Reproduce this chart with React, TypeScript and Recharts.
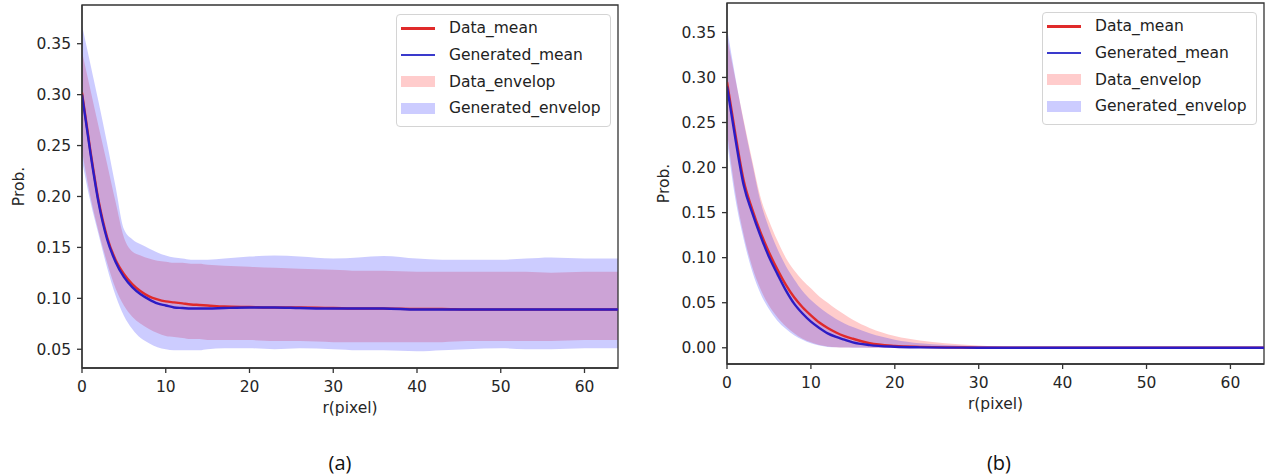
import { Area, ComposedChart, Label, Legend, Line, ReferenceArea, XAxis, YAxis } from 'recharts';

// r(pixel) sample positions shared by both panels
const rPixel = [0, 1, 2, 3, 4, 5, 6, 7, 8, 9, 10, 11, 12, 13, 14, 15, 17, 20, 23, 26, 30, 33, 36, 40, 43, 46, 50, 53, 56, 60, 64];

// panel (a)
const aDataMean = [0.302, 0.245, 0.195, 0.16, 0.138, 0.124, 0.114, 0.107, 0.102, 0.099, 0.097, 0.096, 0.095, 0.094, 0.0935, 0.093, 0.092, 0.0915, 0.091, 0.091, 0.0905, 0.09, 0.09, 0.0895, 0.0895, 0.089, 0.089, 0.089, 0.089, 0.089, 0.089];
const aGenMean = [0.3, 0.243, 0.193, 0.158, 0.136, 0.121, 0.111, 0.104, 0.099, 0.095, 0.093, 0.091, 0.0905, 0.09, 0.09, 0.09, 0.0905, 0.091, 0.091, 0.0905, 0.09, 0.09, 0.09, 0.089, 0.089, 0.089, 0.089, 0.089, 0.089, 0.089, 0.089];
const aDataLo = [0.245, 0.2, 0.165, 0.135, 0.11, 0.093, 0.082, 0.075, 0.07, 0.066, 0.063, 0.062, 0.061, 0.06, 0.06, 0.059, 0.059, 0.059, 0.058, 0.058, 0.057, 0.057, 0.057, 0.057, 0.057, 0.058, 0.058, 0.058, 0.058, 0.059, 0.059];
const aDataHi = [0.342, 0.305, 0.268, 0.232, 0.195, 0.16, 0.146, 0.142, 0.139, 0.137, 0.136, 0.135, 0.135, 0.134, 0.134, 0.133, 0.132, 0.131, 0.13, 0.129, 0.128, 0.127, 0.127, 0.126, 0.126, 0.126, 0.126, 0.126, 0.125, 0.126, 0.126];
const aGenLo = [0.235, 0.195, 0.162, 0.13, 0.103, 0.083, 0.07, 0.061, 0.056, 0.052, 0.05, 0.049, 0.049, 0.049, 0.049, 0.05, 0.051, 0.051, 0.05, 0.051, 0.05, 0.049, 0.049, 0.048, 0.049, 0.05, 0.051, 0.05, 0.05, 0.051, 0.051];
const aGenHi = [0.368, 0.33, 0.292, 0.252, 0.21, 0.168, 0.158, 0.153, 0.149, 0.145, 0.142, 0.14, 0.139, 0.138, 0.138, 0.138, 0.139, 0.141, 0.142, 0.141, 0.139, 0.14, 0.1415, 0.139, 0.138, 0.138, 0.138, 0.139, 0.14, 0.139, 0.139];

// panel (b)
const bDataMean = [0.295, 0.237, 0.185, 0.154, 0.128, 0.106, 0.087, 0.07, 0.056, 0.045, 0.036, 0.028, 0.022, 0.017, 0.013, 0.01, 0.005, 0.002, 0.001, 0.0005, 0.0002, 0, 0, 0, 0, 0, 0, 0, 0, 0, 0];
const bGenMean = [0.29, 0.232, 0.18, 0.15, 0.124, 0.101, 0.082, 0.064, 0.049, 0.038, 0.029, 0.022, 0.016, 0.012, 0.009, 0.006, 0.003, 0.0012, 0.0005, 0.0002, 0.0001, 0, 0, 0, 0, 0, 0, 0, 0, 0, 0];
const bDataLo = [0.24, 0.172, 0.125, 0.09, 0.065, 0.047, 0.034, 0.024, 0.016, 0.01, 0.006, 0.003, 0.0015, 0.0007, 0.0003, 0.0002, 0, 0, 0, 0, 0, 0, 0, 0, 0, 0, 0, 0, 0, 0, 0];
const bDataHi = [0.345, 0.298, 0.252, 0.208, 0.167, 0.141, 0.119, 0.1, 0.086, 0.075, 0.066, 0.057, 0.05, 0.043, 0.037, 0.031, 0.022, 0.013, 0.008, 0.005, 0.0025, 0.0012, 0.0006, 0.0003, 0.0001, 0, 0, 0, 0, 0, 0];
const bGenLo = [0.23, 0.165, 0.12, 0.085, 0.06, 0.043, 0.03, 0.021, 0.014, 0.009, 0.005, 0.0025, 0.001, 0.0005, 0.0002, 0, 0, 0, 0, 0, 0, 0, 0, 0, 0, 0, 0, 0, 0, 0, 0];
const bGenHi = [0.355, 0.3, 0.25, 0.205, 0.162, 0.133, 0.11, 0.091, 0.076, 0.063, 0.053, 0.045, 0.038, 0.032, 0.027, 0.023, 0.016, 0.009, 0.005, 0.003, 0.0015, 0.0008, 0.0004, 0.0002, 0, 0, 0, 0, 0, 0, 0];

const xTicks = [0, 10, 20, 30, 40, 50, 60];
const aYTicks = [0.05, 0.1, 0.15, 0.2, 0.25, 0.3, 0.35];
const bYTicks = [0, 0.05, 0.1, 0.15, 0.2, 0.25, 0.3, 0.35];

const RED = '#e02a2a';
const BLUE = '#2c1cc4';
const AXIS = '#333';
const FONT = 'DejaVu Sans';

const legendItems = [
  { name: 'Data_mean', kind: 'line', color: RED },
  { name: 'Generated_mean', kind: 'line', color: '#3a3acc' },
  { name: 'Data_envelop', kind: 'patch', color: 'rgba(255,0,0,0.2)' },
  { name: 'Generated_envelop', kind: 'patch', color: 'rgba(0,0,255,0.2)' },
];

type Row = { r: number; dataMean: number; genMean: number; dataBand: [number, number]; genBand: [number, number] };

function buildRows(dm: number[], gm: number[], dl: number[], dh: number[], gl: number[], gh: number[]): Row[] {
  return rPixel.map((r, i) => ({
    r,
    dataMean: dm[i],
    genMean: gm[i],
    dataBand: [dl[i], dh[i]],
    genBand: [gl[i], gh[i]],
  }));
}

const rowsA = buildRows(aDataMean, aGenMean, aDataLo, aDataHi, aGenLo, aGenHi);
const rowsB = buildRows(bDataMean, bGenMean, bDataLo, bDataHi, bGenLo, bGenHi);

function LegendBox() {
  return (
    <div
      style={{
        width: 215,
        boxSizing: 'border-box',
        border: '1px solid #d4d4d4',
        borderRadius: 4,
        background: 'rgba(255,255,255,0.8)',
        paddingBottom: 4,
        fontFamily: FONT,
        fontSize: 15.5,
        color: '#222',
      }}
    >
      {legendItems.map((it) => (
        <div key={it.name} style={{ height: 26.7, display: 'flex', alignItems: 'center' }}>
          <span
            style={{
              display: 'inline-block',
              width: 34,
              marginLeft: 4,
              marginRight: 14,
              height: it.kind === 'line' ? 2.5 : 11,
              background: it.color,
            }}
          />
          <span>{it.name}</span>
        </div>
      ))}
    </div>
  );
}

type PanelProps = {
  rows: Row[];
  left: number;
  width: number;
  yAxisWidth: number;
  marginTop: number;
  marginBottom: number;
  marginRight: number;
  yDomain: [number, number];
  yTicks: number[];
  legendLeft: number;
  legendTop: number;
};

function Panel({ rows, left, width, yAxisWidth, marginTop, marginBottom, marginRight, yDomain, yTicks, legendLeft, legendTop }: PanelProps) {
  const tick = { fill: '#262626', fontSize: 15.5, fontFamily: FONT };
  return (
    <div style={{ position: 'absolute', left, top: 0 }}>
      <ComposedChart width={width} height={476} data={rows} margin={{ top: marginTop, right: marginRight, bottom: marginBottom, left: 0 }}>
        <XAxis
          type="number"
          dataKey="r"
          domain={[0, 64]}
          ticks={xTicks}
          allowDataOverflow
          height={45}
          tickSize={5}
          tickMargin={8}
          stroke={AXIS}
          strokeWidth={1.3}
          tick={tick}
        >
          <Label value="r(pixel)" position="insideBottom" offset={0} fill="#262626" fontSize={15.5} fontFamily={FONT} />
        </XAxis>
        <YAxis
          type="number"
          domain={yDomain}
          ticks={yTicks}
          allowDataOverflow
          width={yAxisWidth}
          tickSize={5}
          tickMargin={6}
          stroke={AXIS}
          strokeWidth={1.3}
          tick={tick}
          tickFormatter={(v) => Number(v).toFixed(2)}
        >
          <Label
            content={({ viewBox }) => {
              const vb = viewBox as { x: number; y: number; width: number; height: number };
              const x = vb.x + vb.width - 58;
              const y = vb.y + vb.height / 2;
              return (
                <text x={x} y={y} transform={`rotate(-90 ${x} ${y})`} textAnchor="middle" fill="#262626" fontSize={15.5} fontFamily={FONT}>
                  Prob.
                </text>
              );
            }}
          />
        </YAxis>
        <Area type="monotone" dataKey="dataBand" stroke="none" fill="red" fillOpacity={0.2} isAnimationActive={false} />
        <Area type="monotone" dataKey="genBand" stroke="none" fill="blue" fillOpacity={0.2} isAnimationActive={false} />
        <Line type="monotone" dataKey="dataMean" stroke={RED} strokeWidth={2.4} dot={false} isAnimationActive={false} />
        <Line type="monotone" dataKey="genMean" stroke={BLUE} strokeWidth={2.4} dot={false} isAnimationActive={false} />
        <ReferenceArea x1={0} x2={64} y1={yDomain[0]} y2={yDomain[1]} fill="none" stroke={AXIS} strokeWidth={1.3} ifOverflow="visible" />
        <Legend
          layout="vertical"
          align="center"
          verticalAlign="middle"
          wrapperStyle={{ left: legendLeft, top: legendTop, width: 215 }}
          content={() => <LegendBox />}
        />
      </ComposedChart>
    </div>
  );
}

const caption = { position: 'absolute' as const, top: 449, width: 60, textAlign: 'center' as const, fontFamily: 'Open Sans', fontSize: 20, color: '#111' };

export default function App() {
  return (
    <div style={{ position: 'absolute', left: 0, top: 0, width: 1265, height: 476, background: '#fff' }}>
      <Panel
        rows={rowsA}
        left={0}
        width={640}
        yAxisWidth={82}
        marginTop={5}
        marginBottom={63}
        marginRight={22}
        yDomain={[0.0316, 0.388]}
        yTicks={aYTicks}
        legendLeft={396}
        legendTop={14}
      />
      <Panel
        rows={rowsB}
        left={640}
        width={625}
        yAxisWidth={87}
        marginTop={3}
        marginBottom={67}
        marginRight={1}
        yDomain={[-0.018, 0.3826]}
        yTicks={bYTicks}
        legendLeft={402}
        legendTop={12}
      />
      <div style={{ ...caption, left: 310 }}>(a)</div>
      <div style={{ ...caption, left: 969 }}>(b)</div>
    </div>
  );
}
